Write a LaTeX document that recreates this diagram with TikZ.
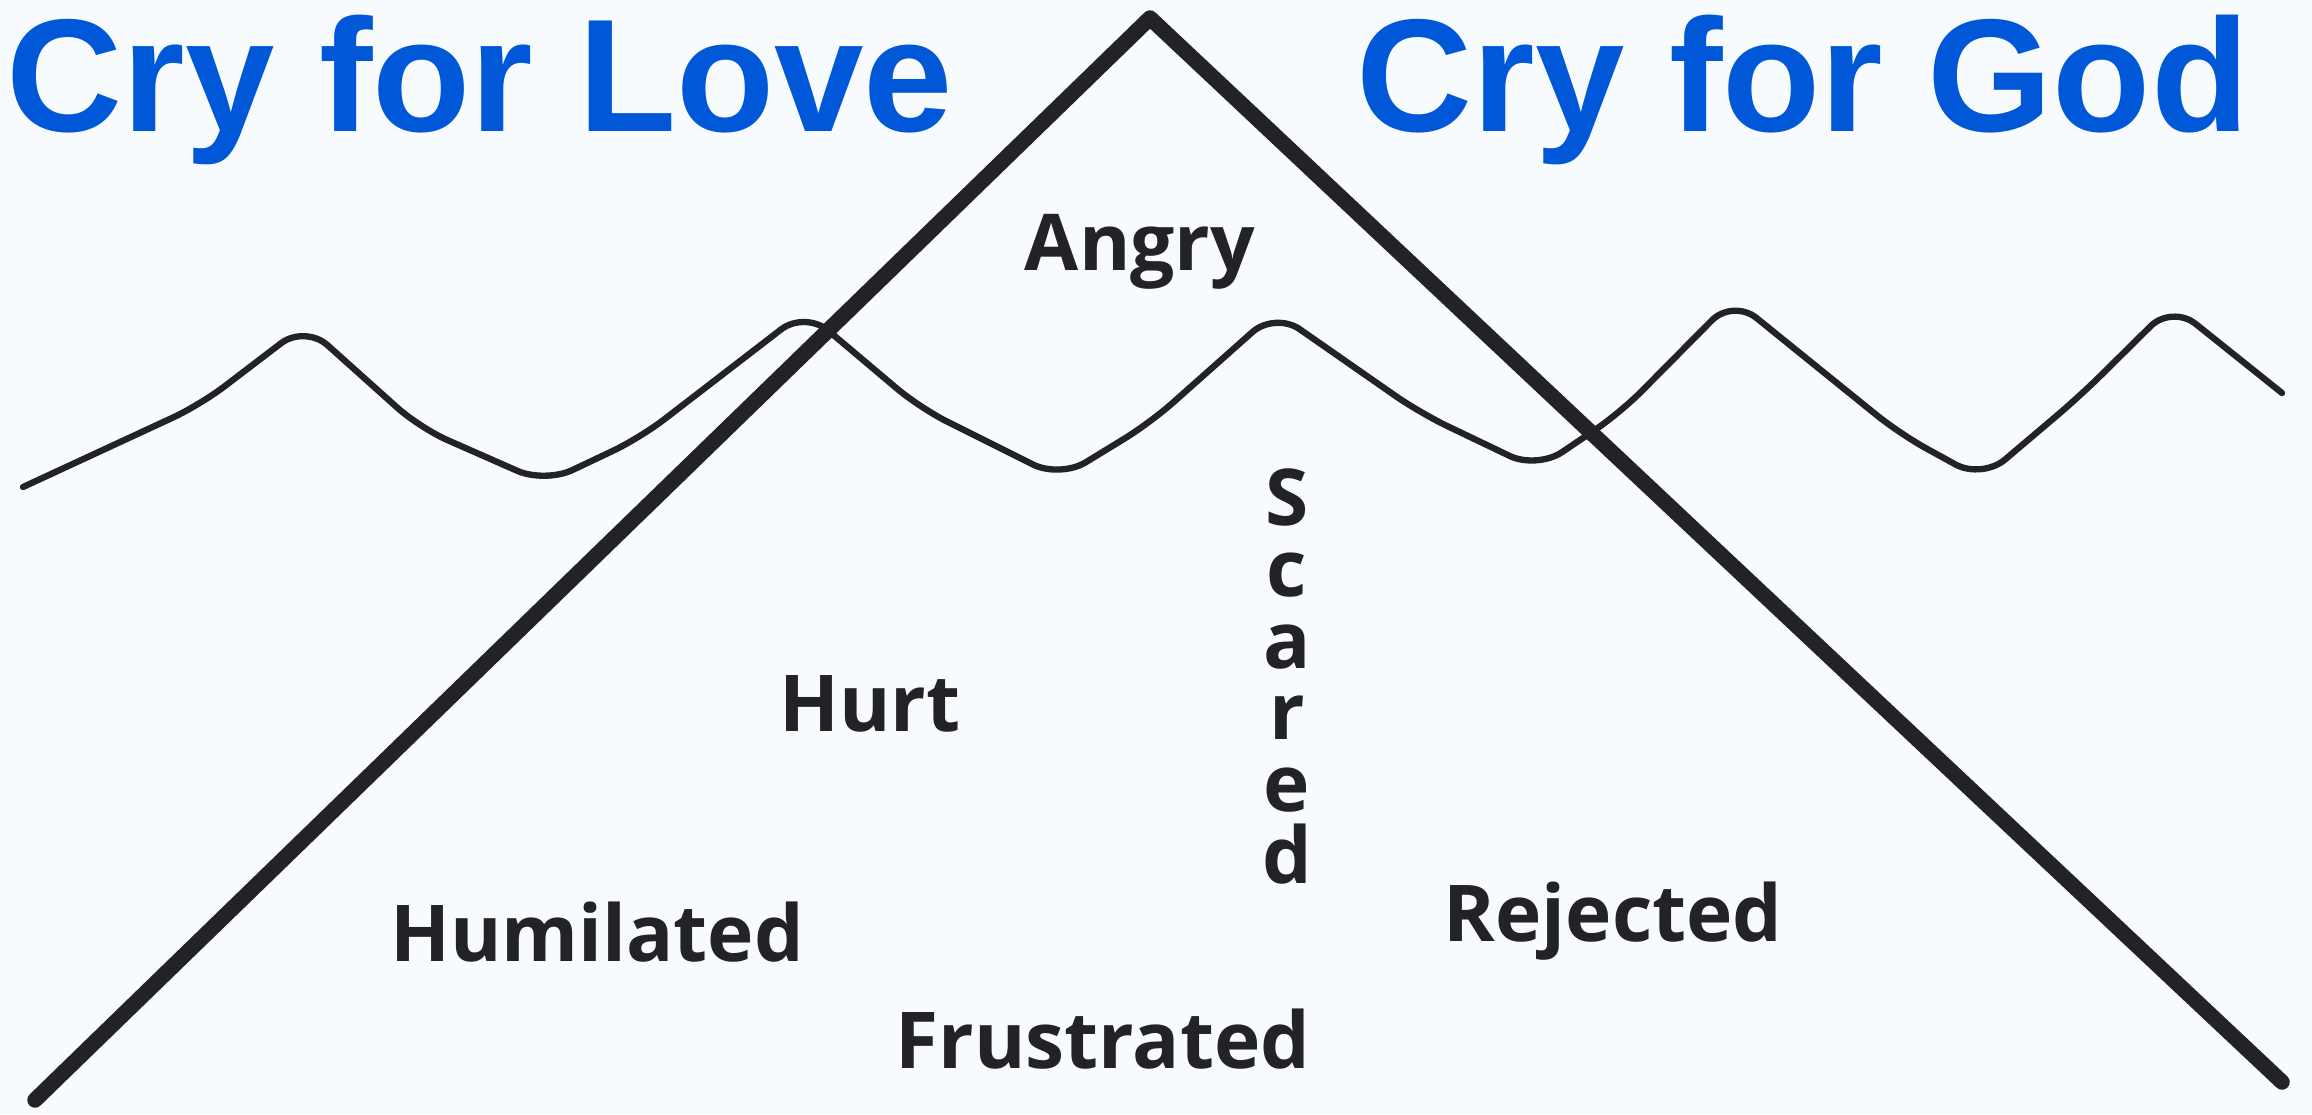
\documentclass[tikz,border=0pt]{standalone}
\usepackage{fontspec}
\usepackage{xcolor}
\usepackage{tikz}
\usetikzlibrary{positioning}
\newfontfamily\ttlfont{Liberation Sans}
\newfontfamily\lblfont{Open Sans}
\definecolor{cry}{RGB}{0,87,216}
\definecolor{ink}{RGB}{35,34,40}
\definecolor{paper}{RGB}{248,251,254}

\begin{document}
\begin{tikzpicture}[x=0.01cm,y=-0.01cm,
  ttl/.style={text=cry,font=\ttlfont\bfseries\fontsize{45.7}{50}\selectfont,inner sep=0pt,anchor=base},
  lbl/.style={text=ink,font=\lblfont\bfseries\fontsize{22.3}{26}\selectfont,inner sep=0pt,anchor=base},
  ridge/.style={draw=ink,line width=4.4pt,line cap=round,line join=round},
  wave/.style={draw=ink,line width=1.8pt,line cap=round,line join=round,rounded corners=0.3cm}]

  \fill[paper] (0,0) rectangle (2312,1114);
  \useasboundingbox (0,0) rectangle (2312,1114);

  % ---------- titles ----------
  \node[ttl] (love) at (480,131) {Cry for Love};
  \node[ttl] (god) at (1803,131) {Cry for God};

  % ---------- water line ----------
  \draw[wave] (23,487) -- (200,405) -- (305,325) -- (420,428) -- (545,483)
    -- (640,438) -- (805,311) -- (920,408) -- (1060,478) -- (1150,423)
    -- (1275,312) -- (1420,413) -- (1537,469) -- (1620,413) -- (1733,299)
    -- (1900,434) -- (1982,479) -- (2080,396) -- (2172,305) -- (2282,393);

  % ---------- mountain ----------
  \coordinate (apex) at (1150,18);
  \coordinate (lbase) at (35,1100);
  \coordinate (rbase) at (2282,1082);
  \draw[ridge] (lbase) -- (apex) -- (rbase);

  % ---------- feelings ----------
  \node[lbl] (angry) at (1140,270) {Angry};
  \node[lbl] (hurt) at (870,731) {Hurt};
  \node[lbl] (humil) at (597,961) {Humilated};
  \node[lbl] (frust) at (1103,1068) {Frustrated};
  \node[lbl] (rej) at (1613,941) {Rejected};
  \foreach \ch [count=\k from 0] in {S,c,a,r,e,d}
    \node[lbl] (scared\k) at (1287,{525+71.6*\k}) {\ch};
\end{tikzpicture}
\end{document}
